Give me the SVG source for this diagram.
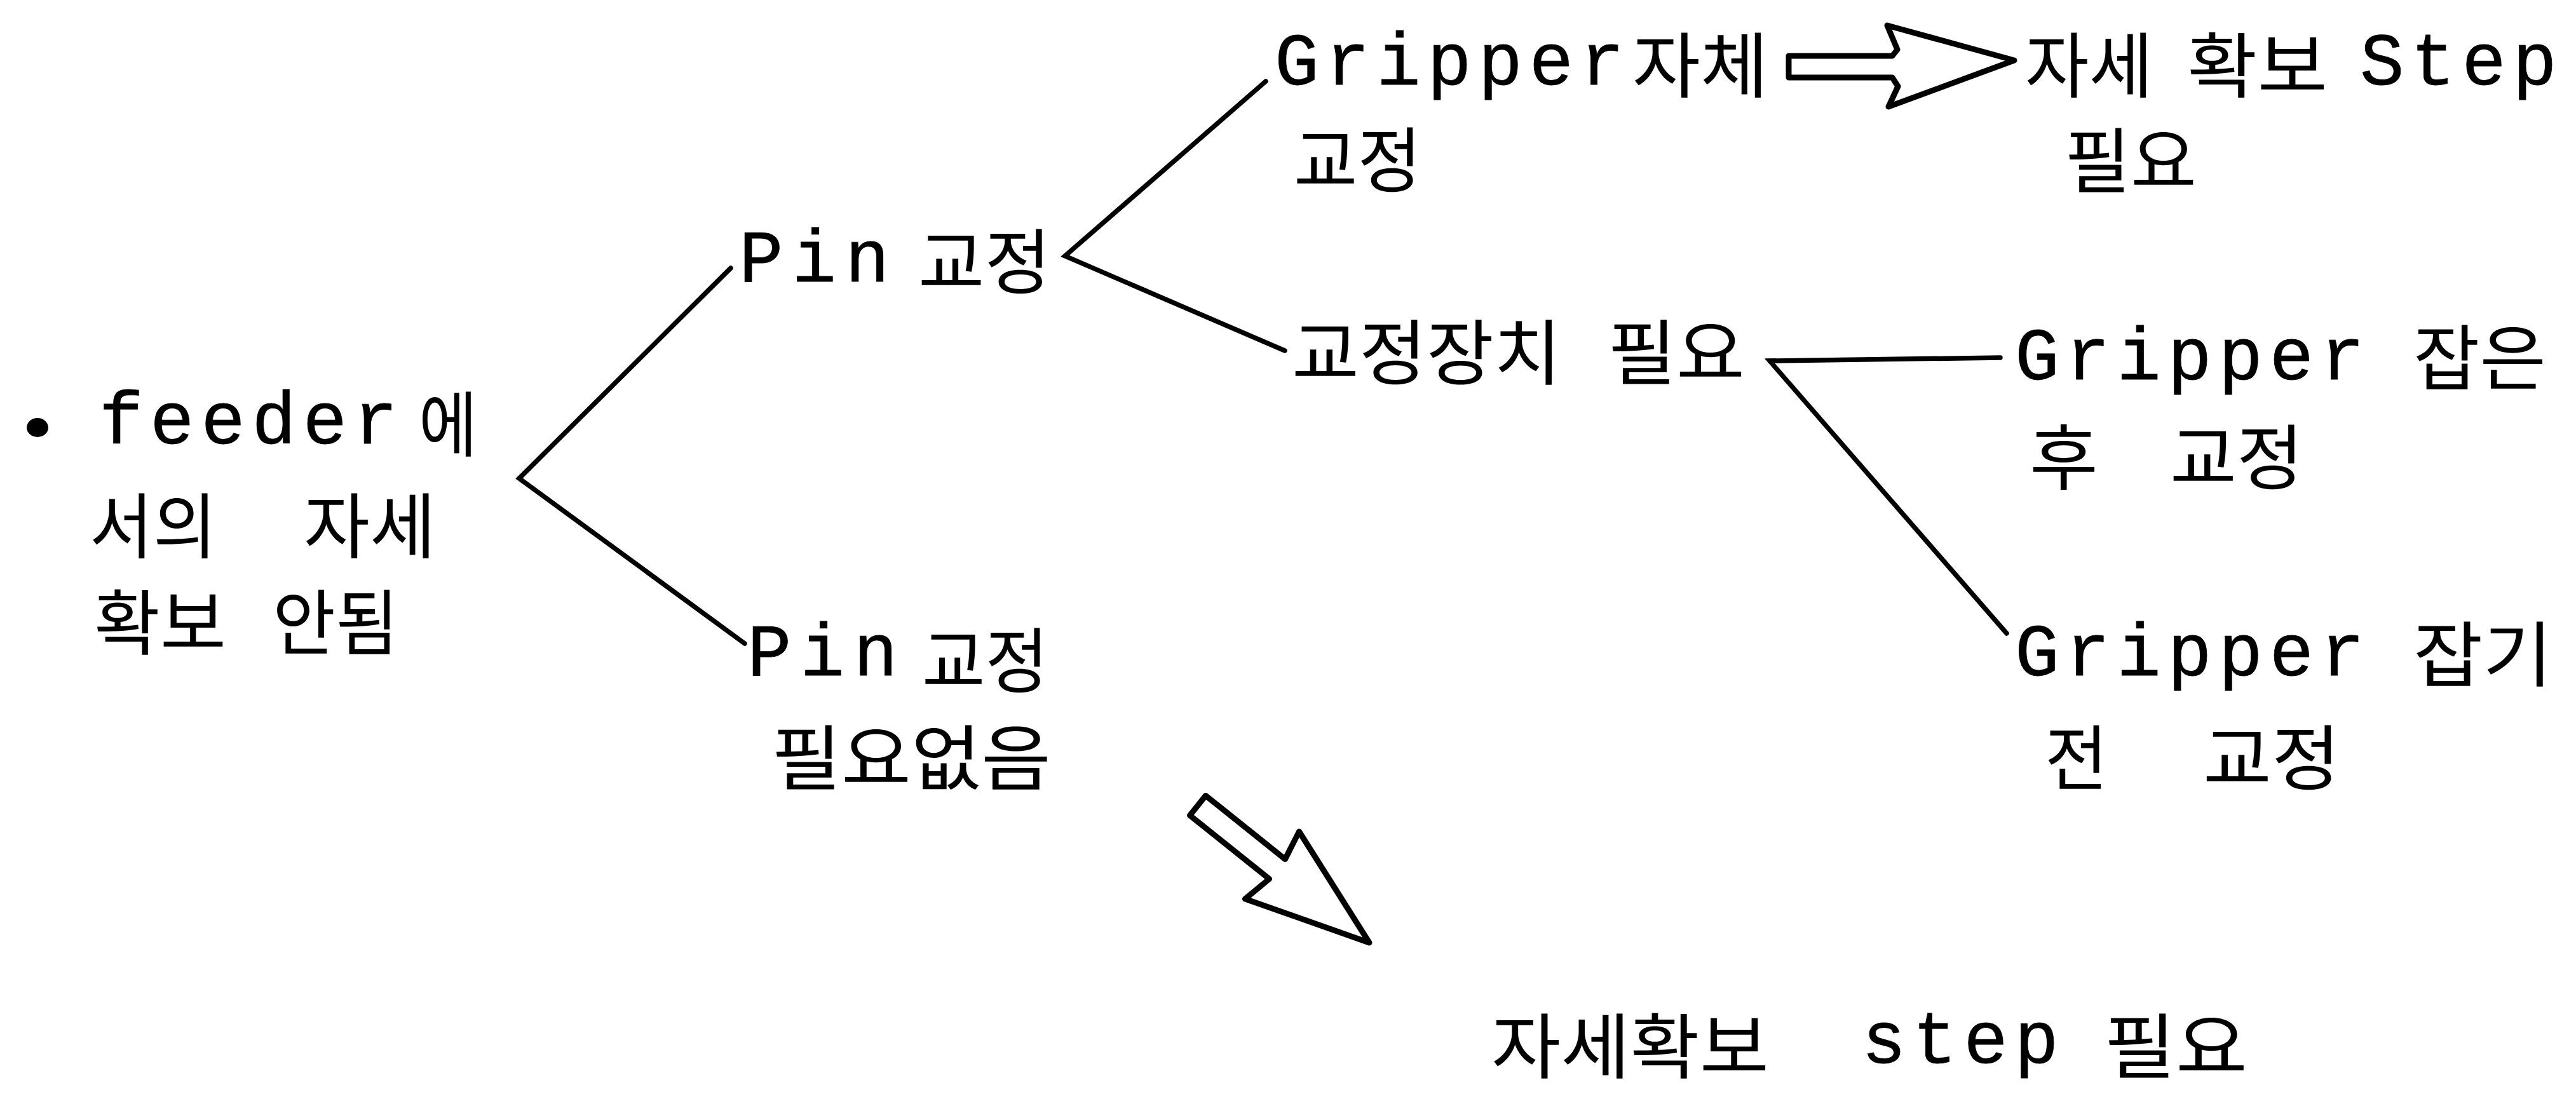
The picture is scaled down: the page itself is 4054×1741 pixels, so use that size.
<svg xmlns="http://www.w3.org/2000/svg" width="4054" height="1741" viewBox="0 0 4054 1741">
<style>
  .en { font-family: "Liberation Mono", "DejaVu Sans Mono", monospace; font-size: 116px; letter-spacing: 10.5px; fill: #000; stroke: #000; stroke-width: 0.8px; }
  .ko { font-family: "Noto Sans CJK KR", "Noto Sans", sans-serif; font-size: 112px; fill: #000; }
  .wide { letter-spacing: 14px; }
  .link { fill: none; stroke: #000; stroke-width: 7.5; stroke-linejoin: miter; stroke-linecap: round; }
  .hollow { fill: #fff; stroke: #000; stroke-width: 9; stroke-linejoin: round; }
</style>
<rect width="4054" height="1741" fill="#fff"/>
<g id="connectors">
  <polyline class="link" points="1150,422 817,753 1172,1013"/>
  <polyline class="link" points="1992,128 1676,403 2022,552"/>
  <polyline class="link" points="3148,563 2785,568 3158,997"/>
  <path class="hollow" d="M2815,88 L2978,88 L2986,78 L2970,40 L3170,95 L2972,168 L2987,136 L2978,122 L2815,122 Z"/>
  <path class="hollow" d="M1897.5,1252.4 L2022.5,1352.4 L2044.5,1309 L2155,1484 L1959.5,1415 L1997.5,1383.6 L1872.5,1283.6 Z"/>
</g>
<g id="root">
  <ellipse cx="59" cy="673" rx="17" ry="15" fill="#000"/>
  <text class="en" x="156" y="698">feeder</text>
  <text class="ko" x="659" y="710" textLength="92" lengthAdjust="spacingAndGlyphs">에</text>
  <text class="ko" x="141" y="870" textLength="200" lengthAdjust="spacingAndGlyphs">서의</text>
  <text class="ko" x="478" y="870" textLength="208" lengthAdjust="spacingAndGlyphs">자세</text>
  <text class="ko" x="148" y="1022" textLength="208" lengthAdjust="spacingAndGlyphs">확보</text>
  <text class="ko" x="429" y="1022" textLength="198" lengthAdjust="spacingAndGlyphs">안됨</text>
</g>
<g id="pin-fix">
  <text class="en wide" x="1163" y="443">Pin</text>
  <text class="ko" x="1445" y="454" textLength="209" lengthAdjust="spacingAndGlyphs">교정</text>
</g>
<g id="pin-nofix">
  <text class="en wide" x="1176" y="1063">Pin</text>
  <text class="ko" x="1451" y="1082" textLength="199" lengthAdjust="spacingAndGlyphs">교정</text>
  <text class="ko" x="1214" y="1235" textLength="440" lengthAdjust="spacingAndGlyphs">필요없음</text>
</g>
<g id="gripper-self">
  <text class="en" x="2006" y="133">Gripper</text>
  <text class="ko" x="2569" y="145" textLength="214" lengthAdjust="spacingAndGlyphs">자체</text>
  <text class="ko" x="2036" y="294" textLength="201" lengthAdjust="spacingAndGlyphs">교정</text>
</g>
<g id="step-needed-top">
  <text class="ko" x="3187" y="145" textLength="201" lengthAdjust="spacingAndGlyphs">자세</text>
  <text class="ko" x="3442" y="145" textLength="221" lengthAdjust="spacingAndGlyphs">확보</text>
  <text class="en" x="3714" y="133">Step</text>
  <text class="ko" x="3249" y="295" textLength="208" lengthAdjust="spacingAndGlyphs">필요</text>
</g>
<g id="device-needed">
  <text class="ko" x="2033" y="597" textLength="424" lengthAdjust="spacingAndGlyphs">교정장치</text>
  <text class="ko" x="2530" y="597" textLength="216" lengthAdjust="spacingAndGlyphs">필요</text>
</g>
<g id="after-grip">
  <text class="en" x="3171" y="597">Gripper</text>
  <text class="ko" x="3798" y="605" textLength="209" lengthAdjust="spacingAndGlyphs">잡은</text>
  <text class="ko" x="3194" y="762" textLength="108" lengthAdjust="spacingAndGlyphs">후</text>
  <text class="ko" x="3415" y="762" textLength="210" lengthAdjust="spacingAndGlyphs">교정</text>
</g>
<g id="before-grip">
  <text class="en" x="3171" y="1063">Gripper</text>
  <text class="ko" x="3798" y="1072" textLength="219" lengthAdjust="spacingAndGlyphs">잡기</text>
  <text class="ko" x="3218" y="1235" textLength="99" lengthAdjust="spacingAndGlyphs">전</text>
  <text class="ko" x="3467" y="1235" textLength="216" lengthAdjust="spacingAndGlyphs">교정</text>
</g>
<g id="step-needed-bottom">
  <text class="ko" x="2347" y="1689" textLength="437" lengthAdjust="spacingAndGlyphs">자세확보</text>
  <text class="en" x="2930" y="1673">step</text>
  <text class="ko" x="3311" y="1689" textLength="226" lengthAdjust="spacingAndGlyphs">필요</text>
</g>
</svg>
